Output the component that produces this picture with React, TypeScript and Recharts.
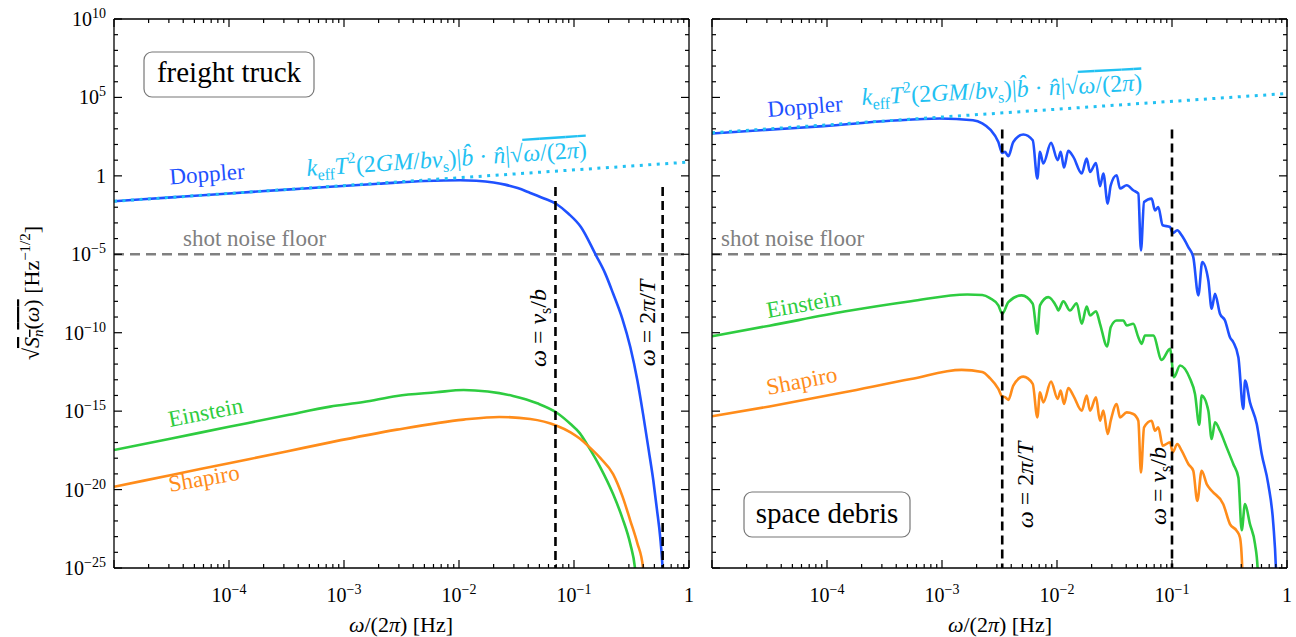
import React from 'react';
import { LineChart, Line, XAxis, YAxis, ReferenceLine } from 'recharts';

const SERIF = '"Liberation Serif", "Times New Roman", serif';

const BLUE = '#1f51ff';
const GREEN = '#2ecc40';
const ORANGE = '#ff8c1a';
const CYAN = '#22c1f2';
const GRAY = '#808080';

// values: [log10 frequency (Hz), log10 amplitude]
const truckDoppler: [number, number][] = [
  [-5, -1.62], [-4.5, -1.37], [-4, -1.12], [-3.5, -0.88], [-3.12, -0.69], [-2.7, -0.5],
  [-2.3, -0.33], [-1.99, -0.28], [-1.85, -0.31], [-1.7, -0.42], [-1.6, -0.56], [-1.49, -0.78],
  [-1.38, -1.09], [-1.26, -1.44], [-1.15, -1.81], [-1.05, -2.4], [-0.94, -3.26], [-0.81, -5.05],
  [-0.73, -6.2], [-0.66, -7.5], [-0.58, -9.1], [-0.51, -10.93], [-0.45, -13.0], [-0.4, -15.16],
  [-0.35, -17.5], [-0.31, -19.44], [-0.28, -21.2], [-0.25, -23.06], [-0.23, -24.97], [-0.22, -26.5],
];
const truckEinstein: [number, number][] = [
  [-5, -17.48], [-4.5, -16.74], [-4, -16.0], [-3.5, -15.26], [-3.12, -14.71], [-2.83, -14.42],
  [-2.54, -14.03], [-2.2, -13.8], [-1.96, -13.65], [-1.75, -13.75], [-1.53, -14.03], [-1.32, -14.5],
  [-1.15, -15.1], [-1.03, -15.82], [-0.95, -16.4], [-0.88, -17.2], [-0.77, -18.6], [-0.66, -20.29],
  [-0.58, -21.8], [-0.51, -23.48], [-0.47, -24.97], [-0.45, -26.5],
];
const truckShapiro: [number, number][] = [
  [-5, -19.82], [-4.5, -19.07], [-4, -18.32], [-3.5, -17.57], [-3.12, -16.99], [-2.54, -16.18],
  [-1.96, -15.54], [-1.65, -15.37], [-1.38, -15.5], [-1.15, -15.93], [-1.03, -16.35], [-0.95, -16.75],
  [-0.88, -17.2], [-0.77, -18.0], [-0.66, -19.01], [-0.58, -20.4], [-0.51, -21.99], [-0.45, -23.4],
  [-0.4, -24.97], [-0.38, -26.5],
];
const truckAsymptote: [number, number][] = [[-5, -1.62], [0, 0.88]];

const debrisDoppler: [number, number][] = [
  [-5, 2.7], [-4.5, 2.95], [-4.03, 3.17], [-3.45, 3.51], [-3.02, 3.66], [-2.73, 3.55], [-2.65, 3.35],
  [-2.58, 2.95], [-2.51, 2.16], [-2.476, 1.46], [-2.452, 1.53], [-2.423, 1.25], [-2.38, 2.16],
  [-2.293, 2.64], [-2.211, 2.27], [-2.171, -0.17], [-2.148, 1.53], [-2.119, 0.79], [-2.052, 2.1],
  [-1.994, 1.0], [-1.968, 1.53], [-1.939, 0.53], [-1.902, 1.59], [-1.858, 1.21], [-1.785, 0.15],
  [-1.742, 1.1], [-1.713, 0.25], [-1.661, 0.82], [-1.626, -0.66], [-1.597, 0.15], [-1.559, -1.77],
  [-1.533, -0.6], [-1.481, 0.04], [-1.452, -0.81], [-1.394, -0.6], [-1.337, -0.92], [-1.293, -1.13],
  [-1.27, -4.75], [-1.243, -1.67], [-1.177, -1.45], [-1.148, -2.2], [-1.119, -1.99], [-1.081, -3.15],
  [-1.017, -3.26], [-0.994, -3.65], [-0.954, -3.47], [-0.916, -3.79], [-0.858, -4.54], [-0.815, -5.18],
  [-0.771, -7.62], [-0.737, -5.5], [-0.684, -6.67], [-0.655, -8.47], [-0.626, -7.52], [-0.583, -8.79],
  [-0.539, -9.22], [-0.496, -10.29], [-0.467, -10.61], [-0.423, -11.56], [-0.38, -14.86],
  [-0.365, -13.05], [-0.322, -14.44], [-0.263, -15.82], [-0.22, -17.73], [-0.163, -19.65],
  [-0.119, -22.2], [-0.096, -25.08], [-0.09, -26.5],
];
const debrisEinstein: [number, number][] = [
  [-5, -10.22], [-4.5, -9.55], [-3.85, -8.65], [-3.27, -7.99], [-2.78, -7.56], [-2.65, -7.6],
  [-2.583, -7.8], [-2.51, -8.26], [-2.476, -8.79], [-2.423, -8.05], [-2.307, -7.62], [-2.211, -8.15],
  [-2.171, -10.07], [-2.148, -8.26], [-2.076, -7.73], [-2.003, -8.37], [-1.989, -8.58], [-1.945, -7.99],
  [-1.887, -8.58], [-1.829, -8.12], [-1.785, -9.43], [-1.742, -8.33], [-1.713, -8.9], [-1.661, -8.63],
  [-1.626, -9.43], [-1.563, -10.88], [-1.533, -9.65], [-1.481, -9.22], [-1.423, -9.22], [-1.394, -9.54],
  [-1.337, -9.43], [-1.293, -10.29], [-1.264, -10.71], [-1.235, -10.18], [-1.163, -10.18],
  [-1.09, -11.73], [-1.017, -11.03], [-0.983, -12.84], [-0.93, -12.09], [-0.843, -12.94], [-0.8, -13.9],
  [-0.763, -15.86], [-0.742, -14.01], [-0.684, -14.97], [-0.655, -16.78], [-0.626, -15.71],
  [-0.583, -16.25], [-0.525, -17.31], [-0.467, -18.37], [-0.423, -19.23], [-0.394, -22.59],
  [-0.365, -20.93], [-0.322, -22.2], [-0.278, -23.48], [-0.255, -25.08], [-0.25, -26.5],
];
const debrisShapiro: [number, number][] = [
  [-5, -15.33], [-4.5, -14.7], [-3.85, -13.8], [-3.27, -12.95], [-2.83, -12.37], [-2.65, -12.5],
  [-2.583, -12.9], [-2.51, -13.58], [-2.476, -14.07], [-2.452, -14.11], [-2.423, -14.28], [-2.38, -13.37],
  [-2.293, -12.8], [-2.211, -13.26], [-2.171, -15.4], [-2.148, -13.8], [-2.119, -14.44], [-2.052, -13.12],
  [-1.994, -14.22], [-1.968, -13.69], [-1.939, -14.54], [-1.902, -13.52], [-1.858, -14.01],
  [-1.785, -14.97], [-1.742, -14.01], [-1.713, -14.97], [-1.661, -14.12], [-1.626, -15.61],
  [-1.597, -14.97], [-1.559, -16.46], [-1.533, -15.61], [-1.481, -14.54], [-1.452, -15.4],
  [-1.394, -15.08], [-1.337, -15.18], [-1.293, -15.61], [-1.27, -18.91], [-1.243, -16.03],
  [-1.177, -15.61], [-1.148, -16.25], [-1.119, -16.03], [-1.081, -17.2], [-1.017, -16.99],
  [-0.994, -17.63], [-0.954, -17.09], [-0.916, -17.52], [-0.858, -18.37], [-0.815, -18.8],
  [-0.78, -20.72], [-0.742, -18.8], [-0.698, -19.65], [-0.655, -20.08], [-0.554, -20.93],
  [-0.496, -22.2], [-0.437, -22.63], [-0.409, -23.06], [-0.389, -25.08], [-0.385, -26.5],
];
const debrisAsymptote: [number, number][] = [[-5, 2.75], [0, 5.25]];

// vertical markers: frequency and top of the dashed line
const truckMarkers = [0.069, 0.59];
const truckMarkerTop = 0.195;
const debrisMarkers = [0.00334, 0.1];
const debrisMarkerTop = 910;
const noiseFloor = 1e-5;

const xDecades = [-5, -4, -3, -2, -1, 0];
const xLabelDecades = [-4, -3, -2, -1, 0];
const yDecades = Array.from({ length: 36 }, (_, i) => i - 25);

const xTicks: number[] = [];
xDecades.forEach((d) => {
  for (let k = 1; k <= (d === 0 ? 1 : 9); k++) xTicks.push(k * 10 ** d);
});
const yTicks = yDecades.map((d) => 10 ** d);

const toPts = (arr: [number, number][]) => arr.map(([lx, ly]) => ({ x: 10 ** lx, y: 10 ** ly }));

const majorExp = (v: number, every: number) => {
  const lg = Math.log10(v);
  const n = Math.round(lg);
  return Math.abs(lg - n) < 1e-6 && n % every === 0 ? n : null;
};

const Pow = ({ n }: { n: number }) =>
  n === 0 ? <>1</> : (
    <>
      10<tspan fontSize={14} dy={-8}>{n < 0 ? `\u2212${-n}` : `${n}`}</tspan>
    </>
  );

const XTick = (props: any) => {
  const { x, y, payload, dir, label } = props;
  const n = majorExp(payload.value, 1);
  const len = n !== null ? 8 : 4;
  return (
    <g>
      <line x1={x} x2={x} y1={y} y2={y + dir * len} stroke="#000" strokeWidth={1.2} />
      {label && n !== null && xLabelDecades.includes(n) && (
        <text x={x} y={y + 34} textAnchor="middle" fontSize={20} fontFamily={SERIF} fill="#000">
          <Pow n={n} />
        </text>
      )}
    </g>
  );
};

const YTick = (props: any) => {
  const { x, y, payload, dir, label } = props;
  const n = majorExp(payload.value, 5);
  const len = n !== null ? 8 : 4;
  return (
    <g>
      <line x1={x} x2={x + dir * len} y1={y} y2={y} stroke="#000" strokeWidth={1.2} />
      {label && n !== null && (
        <text x={x - 8} y={y + 7} textAnchor="end" fontSize={20} fontFamily={SERIF} fill="#000">
          <Pow n={n} />
        </text>
      )}
    </g>
  );
};

type Series = { pts: [number, number][]; color: string; dotted?: boolean };

function Panel(props: {
  left: number; width: number; axisL: number; axisR: number; yLabels: boolean;
  series: Series[]; markers: number[]; markerTop: number;
}) {
  const { left, width, axisL, axisR, yLabels, series, markers, markerTop } = props;
  const frame = { stroke: '#000', strokeWidth: 1.3 };
  return (
    <div style={{ position: 'absolute', left, top: 0 }}>
      <LineChart width={width} height={637} margin={{ top: 0, right: 0, bottom: 0, left: 0 }}>
        <XAxis xAxisId="b" type="number" dataKey="x" scale="log" domain={[1e-5, 1]} allowDataOverflow
          ticks={xTicks} interval={0} tickLine={false} tickSize={0} tickMargin={0} height={69}
          axisLine={frame} tick={(p: any) => <XTick {...p} dir={-1} label />} />
        <XAxis xAxisId="t" orientation="top" type="number" dataKey="x" scale="log" domain={[1e-5, 1]} allowDataOverflow
          ticks={xTicks} interval={0} tickLine={false} tickSize={0} tickMargin={0} height={19}
          axisLine={frame} tick={(p: any) => <XTick {...p} dir={1} />} />
        <YAxis yAxisId="l" type="number" scale="log" domain={[1e-25, 1e10]} allowDataOverflow
          ticks={yTicks} interval={0} tickLine={false} tickSize={0} tickMargin={0} width={axisL}
          axisLine={frame} tick={(p: any) => <YTick {...p} dir={1} label={yLabels} />} />
        <YAxis yAxisId="r" orientation="right" type="number" scale="log" domain={[1e-25, 1e10]} allowDataOverflow
          ticks={yTicks} interval={0} tickLine={false} tickSize={0} tickMargin={0} width={axisR}
          axisLine={frame} tick={(p: any) => <YTick {...p} dir={-1} />} />
        <ReferenceLine xAxisId="b" yAxisId="l" y={noiseFloor} stroke={GRAY} strokeWidth={2.5} strokeDasharray="10 6" />
        {series.map((s, i) => (
          <Line key={i} xAxisId="b" yAxisId="l" data={toPts(s.pts)} dataKey="y" type="monotone"
            stroke={s.color} strokeWidth={s.dotted ? 3 : 2.6} strokeDasharray={s.dotted ? '3 5.5' : undefined}
            dot={false} activeDot={false} isAnimationActive={false} />
        ))}
        {markers.map((m) => (
          <ReferenceLine key={m} xAxisId="b" yAxisId="l" ifOverflow="visible"
            segment={[{ x: m, y: markerTop }, { x: m, y: 1e-25 }]}
            stroke="#000" strokeWidth={2.6} strokeDasharray="9 5" />
        ))}
      </LineChart>
    </div>
  );
}

const it = { fontStyle: 'italic' as const };

const Omega = () => <tspan {...it}>ω</tspan>;

function Formula({ x, y, angle }: { x: number; y: number; angle: number }) {
  return (
    <text transform={`translate(${x},${y}) rotate(${angle})`} fill={CYAN} fontSize={24} fontFamily={SERIF}>
      <tspan {...it}>k</tspan>
      <tspan fontSize={16} dy={5}>eff</tspan>
      <tspan {...it} dy={-5}>T</tspan>
      <tspan fontSize={16} dy={-10}>2</tspan>
      <tspan dy={10}>(2</tspan>
      <tspan {...it}>GM</tspan>
      <tspan>/</tspan>
      <tspan {...it}>bv</tspan>
      <tspan fontSize={16} dy={5}>s</tspan>
      <tspan dy={-5}>)|</tspan>
      <tspan {...it}>{'b\u0302'}</tspan>
      <tspan>{'\u00a0·\u00a0'}</tspan>
      <tspan {...it}>{'n\u0302'}</tspan>
      <tspan>|√</tspan>
      <tspan style={{ textDecoration: 'overline' }}>
        <tspan {...it}>ω</tspan>/(2<tspan {...it}>π</tspan>)
      </tspan>
    </text>
  );
}

function Overlay() {
  const lbl = { fontSize: 23, fontFamily: SERIF };
  return (
    <svg width={1296} height={637} style={{ position: 'absolute', left: 0, top: 0, pointerEvents: 'none' }}>
      {/* panel tags */}
      <rect x={144} y={52} width={170} height={45} rx={8} fill="#fff" stroke="#777" strokeWidth={1.2} />
      <text x={229} y={82} textAnchor="middle" fontSize={29} fontFamily={SERIF}>freight truck</text>
      <rect x={744} y={492} width={166} height={45} rx={8} fill="#fff" stroke="#777" strokeWidth={1.2} />
      <text x={827} y={523} textAnchor="middle" fontSize={29} fontFamily={SERIF}>space debris</text>

      {/* axis titles */}
      <text x={401} y={632} textAnchor="middle" fontSize={22} fontFamily={SERIF}>
        <Omega />/(2<tspan {...it}>π</tspan>) [Hz]
      </text>
      <text x={1000} y={632} textAnchor="middle" fontSize={22} fontFamily={SERIF}>
        <Omega />/(2<tspan {...it}>π</tspan>) [Hz]
      </text>
      <text transform="translate(39,293) rotate(-90)" textAnchor="middle" fontSize={22} fontFamily={SERIF}>
        √<tspan style={{ textDecoration: 'overline' }}><tspan {...it}>S</tspan><tspan {...it} fontSize={15} dy={4}>n</tspan><tspan dy={-4}>(</tspan><tspan {...it}>ω</tspan>)</tspan>
        {'\u00a0[Hz'}<tspan fontSize={15} dy={-9}>−1/2</tspan><tspan dy={9}>]</tspan>
      </text>

      {/* curve labels, left */}
      <text transform="translate(170,184.5) rotate(-4.5)" fill={BLUE} {...lbl}>Doppler</text>
      <text transform="translate(170,427) rotate(-11)" fill={GREEN} {...lbl}>Einstein</text>
      <text transform="translate(170,492) rotate(-10)" fill={ORANGE} {...lbl}>Shapiro</text>
      <text x={183} y={246} fill={GRAY} {...lbl}>shot noise floor</text>
      <Formula x={307} y={176} angle={-3.8} />

      {/* curve labels, right */}
      <text transform="translate(768,117) rotate(-4.5)" fill={BLUE} {...lbl}>Doppler</text>
      <text transform="translate(768,318) rotate(-10)" fill={GREEN} {...lbl}>Einstein</text>
      <text transform="translate(768,395) rotate(-11)" fill={ORANGE} {...lbl}>Shapiro</text>
      <text x={721} y={246} fill={GRAY} {...lbl}>shot noise floor</text>
      <Formula x={862} y={105} angle={-3} />

      {/* marker labels */}
      <text transform="translate(546,328) rotate(-90)" textAnchor="middle" fontSize={24} fontFamily={SERIF}>
        <Omega />{'\u00a0=\u00a0'}<tspan {...it}>v</tspan><tspan fontSize={16} dy={5}>s</tspan><tspan dy={-5}>/</tspan><tspan {...it}>b</tspan>
      </text>
      <text transform="translate(655,323) rotate(-90)" textAnchor="middle" fontSize={24} fontFamily={SERIF}>
        <Omega />{'\u00a0=\u00a02'}<tspan {...it}>π</tspan>/<tspan {...it}>T</tspan>
      </text>
      <text transform="translate(1033,485) rotate(-90)" textAnchor="middle" fontSize={24} fontFamily={SERIF}>
        <Omega />{'\u00a0=\u00a02'}<tspan {...it}>π</tspan>/<tspan {...it}>T</tspan>
      </text>
      <text transform="translate(1166,486) rotate(-90)" textAnchor="middle" fontSize={24} fontFamily={SERIF}>
        <Omega />{'\u00a0=\u00a0'}<tspan {...it}>v</tspan><tspan fontSize={16} dy={5}>s</tspan><tspan dy={-5}>/</tspan><tspan {...it}>b</tspan>
      </text>
    </svg>
  );
}

export default function App() {
  const truckSeries: Series[] = [
    { pts: truckDoppler, color: BLUE },
    { pts: truckEinstein, color: GREEN },
    { pts: truckShapiro, color: ORANGE },
    { pts: truckAsymptote, color: CYAN, dotted: true },
  ];
  const debrisSeries: Series[] = [
    { pts: debrisDoppler, color: BLUE },
    { pts: debrisEinstein, color: GREEN },
    { pts: debrisShapiro, color: ORANGE },
    { pts: debrisAsymptote, color: CYAN, dotted: true },
  ];
  return (
    <div style={{ position: 'absolute', left: 0, top: 0, width: 1296, height: 637, background: '#fff', fontFamily: SERIF }}>
      <Panel left={0} width={700} axisL={114} axisR={11} yLabels series={truckSeries}
        markers={truckMarkers} markerTop={truckMarkerTop} />
      <Panel left={700} width={596} axisL={12} axisR={9} yLabels={false} series={debrisSeries}
        markers={debrisMarkers} markerTop={debrisMarkerTop} />
      <Overlay />
    </div>
  );
}
